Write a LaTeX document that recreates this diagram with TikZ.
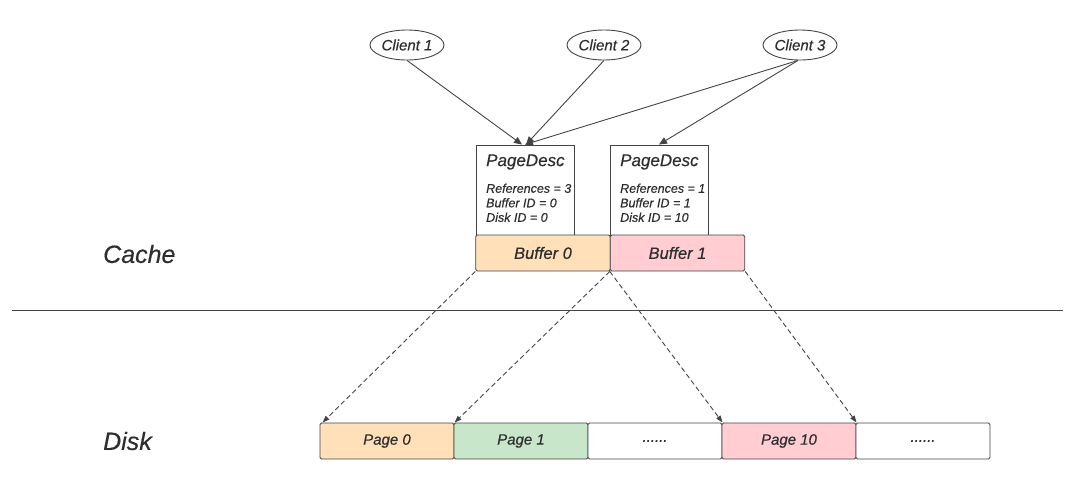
\documentclass[tikz,border=0pt]{standalone}
\usepackage{fontspec}
\setmainfont{Liberation Sans}[ItalicFeatures={FakeBold=0.4}]
\usetikzlibrary{arrows.meta,shapes.geometric}
\definecolor{txt}{HTML}{2E2E2E}
\definecolor{ln}{HTML}{444444}
\definecolor{org}{HTML}{FFE0B8}
\definecolor{pnk}{HTML}{FFCDD2}
\definecolor{grn}{HTML}{C8E6C9}
\tikzset{
  client/.style={draw=ln, line width=0.9pt, ellipse, minimum width=74pt, minimum height=30pt, inner sep=0pt, font=\fontsize{15}{17}\selectfont\itshape, text=txt},
  descbox/.style={draw=ln, line width=0.9pt, rectangle, minimum width=98pt, minimum height=90pt, inner sep=0pt},
  buf/.style={draw=ln, line width=0.9pt, rectangle, rounded corners=1.5pt, minimum width=134.5pt, minimum height=36pt, inner sep=0pt, font=\fontsize{16.5}{18}\selectfont\itshape, text=txt},
  pg/.style={draw=ln, line width=0.9pt, rectangle, rounded corners=1.5pt, minimum width=134pt, minimum height=36pt, inner sep=0pt, font=\fontsize{15}{17}\selectfont\itshape, text=txt},
  solidarr/.style={draw=ln, line width=0.9pt, -{Triangle[length=8pt,width=7pt]}},
  dasharr/.style={draw=ln, line width=0.9pt, dash pattern=on 5pt off 3pt, -{Triangle[length=7pt,width=5pt]}},
  lbl/.style={font=\fontsize{25}{27}\selectfont\itshape, text=txt, anchor=west, inner sep=0pt},
  title/.style={font=\fontsize{17}{19}\selectfont\itshape, text=txt, anchor=west, inner sep=0pt},
  info/.style={font=\fontsize{12.5}{14.5}\selectfont\itshape, text=txt, anchor=north west, inner sep=0pt, align=left}
}
\begin{document}
\begin{tikzpicture}[x=1pt,y=-1pt]
\useasboundingbox (0,0) rectangle (1080,485);
% clients
\node[client] (c1) at (407,45) {Client 1};
\node[client] (c2) at (604,45) {Client 2};
\node[client] (c3) at (800,45) {Client 3};
% page descriptors
\node[descbox] (pd1) at (525,190) {};
\node[descbox] (pd2) at (659,190) {};
\node[title] (t1) at (486,162) {PageDesc};
\node[title] (t2) at (620,162) {PageDesc};
\node[info] (i1) at (486,183.5) {References = 3\\Buffer ID = 0\\Disk ID = 0};
\node[info] (i2) at (620,183.5) {References = 1\\Buffer ID = 1\\Disk ID = 10};
% buffers
\node[buf, fill=org] (b0) at (543,253) {Buffer 0};
\node[buf, fill=pnk] (b1) at (677.5,253) {Buffer 1};
% divider
\coordinate (dl) at (12,310);
\coordinate (dr) at (1063,310);
\draw[ln, line width=1pt] (dl) -- (dr);
% labels
\node[lbl] (cache) at (103,254) {Cache};
\node[lbl] (disk) at (103,441) {Disk};
% pages
\node[pg, fill=org] (p0) at (387,441) {Page 0};
\node[pg, fill=grn] (p1) at (521,441) {Page 1};
\node[pg, fill=white] (p2) at (655,441) {......};
\node[pg, fill=pnk] (p10) at (789,441) {Page 10};
\node[pg, fill=white] (p3) at (923,441) {......};
% client arrows
\draw[solidarr] (c1.south) -- ([xshift=-3pt]pd1.north);
\draw[solidarr] (c2.south) -- ([xshift=1pt]pd1.north);
\draw[solidarr] ([xshift=-2pt]c3.south) -- ([xshift=0pt]pd1.north);
\draw[solidarr] ([xshift=-2pt]c3.south) -- (pd2.north);
% dashed arrows
\draw[dasharr] (b0.south west) -- ([xshift=3pt]p0.north west);
\draw[dasharr] (b1.south west) -- ([xshift=1pt]p1.north west);
\draw[dasharr] (b1.south west) -- ([xshift=1pt]p10.north west);
\draw[dasharr] (b1.south east) -- ([xshift=1pt]p3.north west);
\end{tikzpicture}
\end{document}
